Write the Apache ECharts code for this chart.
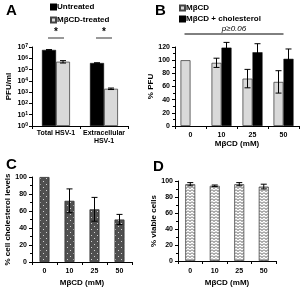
<!DOCTYPE html>
<html>
<head>
<meta charset="utf-8">
<style>
  html, body { margin: 0; padding: 0; background: #fff; }
  #chart { width: 300px; height: 288px; }
</style>
<script src="https://cdn.jsdelivr.net/npm/echarts@6/dist/echarts.min.js"></script>
</head>
<body>
<div id="chart"></div>
<script>
// panel A
const groupsA = ['Total HSV-1', 'Extracellular\nHSV-1'];
const untreated = [5.5e6, 3.8e5];
const untreatedErr = [4e5, 2e4];
const treated = [5e5, 2e3];
const treatedErr = [1.2e5, 3e2];
const significance = ['*', '*'];

// panel B
const doses = ['0', '10', '25', '50'];
const mbcd = [100, 96, 72, 67];
const mbcdErr = [0, 7, 14, 17];
const mbcdChol = [null, 119, 112, 102];
const mbcdCholErr = [null, 8, 13, 15];
const pText = 'p≥0.06';

// panel C
const cholesterol = [100, 72, 62, 50];
const cholesterolErr = [0, 14, 14, 6];

// panel D
const viable = [96, 94, 96, 93];
const viableErr = [2, 1, 2, 3];

const FONT = 'Liberation Sans, Arial, sans-serif';

// fills
function dotPattern() {
  const c = document.createElement('canvas');
  c.width = 6; c.height = 6;
  const g = c.getContext('2d');
  g.fillStyle = '#505050';
  g.fillRect(0, 0, 6, 6);
  g.fillStyle = 'rgba(255,255,255,0.75)';
  g.fillRect(1, 1, 1, 1);
  g.fillRect(4, 4, 1, 1);
  return c;
}
function zigzagPattern() {
  const c = document.createElement('canvas');
  c.width = 4; c.height = 3;
  const g = c.getContext('2d');
  g.fillStyle = '#fff';
  g.fillRect(0, 0, 4, 3);
  g.strokeStyle = '#444';
  g.lineWidth = 0.9;
  g.beginPath();
  g.moveTo(0, 0.5); g.lineTo(2, 2.5); g.lineTo(4, 0.5);
  g.stroke();
  return c;
}

// error bars drawn on the axis scales
function errSeries(idx, vals, errs, offset) {
  return {
    type: 'custom',
    xAxisIndex: idx, yAxisIndex: idx,
    z: 10,
    silent: true,
    data: vals.map((v, i) => [i, v, errs[i]]),
    renderItem: function (params, api) {
      const i = api.value(0), v = api.value(1), e = api.value(2);
      if (v == null || isNaN(v) || !e) return;
      const top = api.coord([i, v + e]);
      const bot = api.coord([i, v - e]);
      const x = top[0] + offset;
      const st = { stroke: '#000', lineWidth: 1 };
      return {
        type: 'group',
        children: [
          { type: 'line', shape: { x1: x, y1: top[1], x2: x, y2: bot[1] }, style: st },
          { type: 'line', shape: { x1: x - 3, y1: top[1], x2: x + 3, y2: top[1] }, style: st },
          { type: 'line', shape: { x1: x - 3, y1: bot[1], x2: x + 3, y2: bot[1] }, style: st }
        ]
      };
    }
  };
}

const tickLabel = { color: '#000', fontFamily: FONT, fontWeight: 'bold', fontSize: 7 };
const axisName = { color: '#000', fontFamily: FONT, fontWeight: 'bold', fontSize: 8 };
const axLine = { lineStyle: { color: '#000', width: 1 } };
const legendText = { color: '#000', fontFamily: FONT, fontWeight: 'bold', fontSize: 8, padding: [0, 0, 0, -4] };

function catAxis(idx, data, margin, name, gap) {
  return {
    type: 'category', gridIndex: idx, data: data,
    axisLine: axLine,
    axisTick: { show: true, length: 3, lineStyle: { color: '#000' } },
    axisLabel: Object.assign({ margin: margin, lineHeight: 8, interval: 0 }, tickLabel),
    name: name, nameLocation: 'middle', nameGap: gap, nameTextStyle: axisName
  };
}
function valAxis(idx, max, interval, name, gap) {
  return {
    type: 'value', gridIndex: idx, min: 0, max: max, interval: interval,
    axisLine: Object.assign({ show: true }, axLine),
    axisTick: { show: true, length: 3, lineStyle: { color: '#000' } },
    minorTick: { show: true, splitNumber: 2, length: 2, lineStyle: { color: '#000' } },
    splitLine: { show: false },
    axisLabel: Object.assign({ margin: 5 }, tickLabel),
    name: name, nameLocation: 'middle', nameRotate: 90, nameGap: gap, nameTextStyle: axisName
  };
}

const chart = echarts.init(document.getElementById('chart'), null, { renderer: 'canvas' });
chart.setOption({
  animation: false,
  textStyle: { fontFamily: FONT },
  title: [
    { text: 'A', left: 1, top: -2, textStyle: { fontSize: 15, fontWeight: 'bold', fontFamily: FONT, color: '#000' } },
    { text: 'B', left: 150, top: -2, textStyle: { fontSize: 15, fontWeight: 'bold', fontFamily: FONT, color: '#000' } },
    { text: 'C', left: 1, top: 152, textStyle: { fontSize: 15, fontWeight: 'bold', fontFamily: FONT, color: '#000' } },
    { text: 'D', left: 148, top: 154, textStyle: { fontSize: 15, fontWeight: 'bold', fontFamily: FONT, color: '#000' } }
  ],
  legend: [
    {
      left: 50, top: 2, orient: 'vertical', padding: 0, itemGap: 3,
      itemWidth: 5, itemHeight: 5, icon: 'rect',
      data: ['Untreated', 'MβCD-treated'],
      textStyle: Object.assign({ lineHeight: 10, height: 10 }, legendText)
    },
    {
      left: 179, top: 3, orient: 'vertical', padding: 0, itemGap: 1,
      itemWidth: 5, itemHeight: 5, icon: 'rect',
      data: ['MβCD', 'MβCD + cholesterol'],
      textStyle: Object.assign({ lineHeight: 10, height: 10 }, legendText)
    }
  ],
  grid: [
    { left: 32, top: 47, width: 96, height: 79 },
    { left: 175, top: 47, width: 124, height: 79 },
    { left: 32, top: 177, width: 100, height: 85 },
    { left: 178, top: 181, width: 98, height: 80 }
  ],
  xAxis: [
    catAxis(0, groupsA, 3, '', 0),
    catAxis(1, doses, 5, 'MβCD (mM)', 14),
    catAxis(2, doses, 5, 'MβCD (mM)', 17),
    catAxis(3, doses, 6, 'MβCD (mM)', 18)
  ],
  yAxis: [
    {
      type: 'log', gridIndex: 0, logBase: 10, min: 1, max: 1e7, interval: 1,
      axisLine: Object.assign({ show: true }, axLine),
      axisTick: { show: true, length: 3, lineStyle: { color: '#000' } },
      splitLine: { show: false },
      axisLabel: Object.assign({
        margin: 4,
        formatter: function (v) { return '10{s|' + Math.round(Math.log10(v)) + '}'; },
        rich: { s: { fontSize: 5, fontWeight: 'bold', fontFamily: FONT, verticalAlign: 'top', lineHeight: 6, padding: [0, 0, 4, 0] } }
      }, tickLabel),
      name: 'PFU/ml', nameLocation: 'middle', nameRotate: 90, nameGap: 19, nameTextStyle: axisName
    },
    valAxis(1, 120, 20, '% PFU', 14),
    valAxis(2, 100, 20, '% cell cholesterol levels', 20),
    valAxis(3, 100, 20, '% viable cells', 17)
  ],
  series: [
    // A
    { name: 'Untreated', type: 'bar', xAxisIndex: 0, yAxisIndex: 0, barWidth: 14, barGap: 0,
      itemStyle: { color: '#000', borderColor: '#000', borderWidth: 0.5 }, data: untreated },
    { name: 'MβCD-treated', type: 'bar', xAxisIndex: 0, yAxisIndex: 0, barWidth: 14, barGap: 0,
      itemStyle: { color: '#d9d9d9', borderColor: '#444', borderWidth: 0.8 }, data: treated },
    errSeries(0, untreated, untreatedErr, -7),
    errSeries(0, treated, treatedErr, 7),
    {
      type: 'custom', xAxisIndex: 0, yAxisIndex: 0, silent: true, clip: false,
      data: significance.map((s, i) => [i, 1e7, s]),
      renderItem: function (params, api) {
        const p = api.coord([api.value(0), api.value(1)]);
        const y = p[1] - 9;
        return {
          type: 'group',
          children: [
            { type: 'line', shape: { x1: p[0] - 8, y1: y, x2: p[0] + 8, y2: y }, style: { stroke: '#555', lineWidth: 1.2 } },
            { type: 'text', style: { text: significance[params.dataIndex], x: p[0], y: y - 1, textAlign: 'center', textVerticalAlign: 'bottom',
              font: 'bold 10px ' + FONT, fill: '#000' } }
          ]
        };
      }
    },
    // B
    { name: 'MβCD', type: 'bar', xAxisIndex: 1, yAxisIndex: 1, barWidth: 10, barGap: 0,
      itemStyle: { color: '#d9d9d9', borderColor: '#444', borderWidth: 0.8 }, data: mbcd },
    { name: 'MβCD + cholesterol', type: 'bar', xAxisIndex: 1, yAxisIndex: 1, barWidth: 10, barGap: 0,
      itemStyle: { color: '#000', borderColor: '#000', borderWidth: 0.5 }, data: mbcdChol },
    errSeries(1, mbcd, mbcdErr, -5),
    errSeries(1, mbcdChol, mbcdCholErr, 5),
    {
      type: 'custom', xAxisIndex: 1, yAxisIndex: 1, silent: true, clip: false,
      data: [[0, 120]],
      renderItem: function (params, api) {
        const a = api.coord([0, api.value(1)]);
        const b = api.coord([doses.length - 1, api.value(1)]);
        const y = a[1] - 13;
        return {
          type: 'group',
          children: [
            { type: 'line', shape: { x1: a[0] - 6, y1: y, x2: b[0], y2: y }, style: { stroke: '#000', lineWidth: 1 } },
            { type: 'text', style: { text: pText, x: (a[0] - 6 + b[0]) / 2, y: y - 1, textAlign: 'center', textVerticalAlign: 'bottom',
              font: 'italic 8px ' + FONT, fill: '#000' } }
          ]
        };
      }
    },
    // C
    { name: 'cholesterol', type: 'bar', xAxisIndex: 2, yAxisIndex: 2, barWidth: 10,
      itemStyle: { color: { image: dotPattern(), repeat: 'repeat' }, borderColor: '#333', borderWidth: 0.8 }, data: cholesterol },
    errSeries(2, cholesterol, cholesterolErr, 0),
    // D
    { name: 'viable', type: 'bar', xAxisIndex: 3, yAxisIndex: 3, barWidth: 10,
      itemStyle: { color: { image: zigzagPattern(), repeat: 'repeat' }, borderColor: '#444', borderWidth: 0.8 }, data: viable },
    errSeries(3, viable, viableErr, 0)
  ]
});
</script>
</body>
</html>
